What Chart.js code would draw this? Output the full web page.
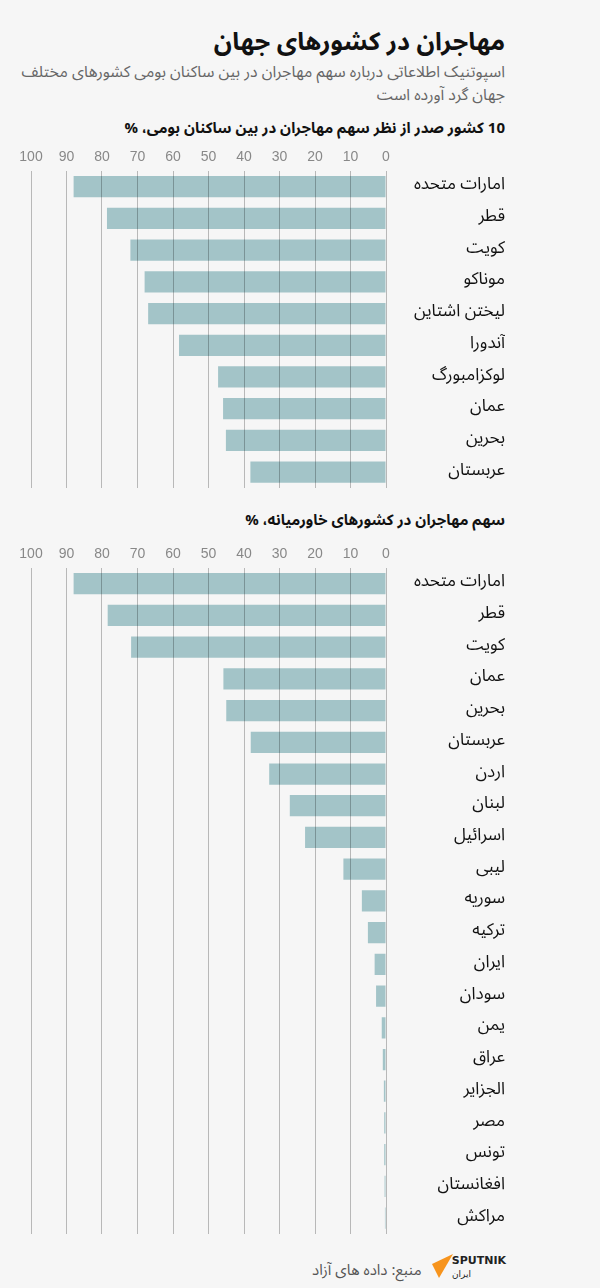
<!DOCTYPE html>
<html lang="fa">
<head>
    <meta charset="UTF-8" />
    <title>مهاجران در کشورهای جهان</title>
    <script src="https://cdn.jsdelivr.net/npm/chart.js"></script>
    <style>
        html, body {
            margin: 0;
            padding: 0;
            background: #f6f6f6;
        }
        body {
            width: 600px;
            height: 1288px;
            position: relative;
            overflow: hidden;
            font-family: "Noto Sans Arabic", "DejaVu Sans", sans-serif;
        }
        .txt {
            position: absolute;
            right: 95px;
            direction: rtl;
            text-align: right;
            white-space: nowrap;
        }
        .title {
            top: 24px;
            font-size: 25px;
            font-weight: bold;
            line-height: 36px;
            color: #111;
        }
        .subtitle {
            top: 61px;
            font-size: 15.8px;
            line-height: 23px;
            color: #666;
        }
        .chart-title {
            font-size: 15px;
            font-weight: bold;
            line-height: 24px;
            color: #111;
        }
        canvas {
            position: absolute;
            left: 0;
        }
        .source {
            position: absolute;
            left: 312px;
            top: 1254px;
            direction: rtl;
            font-size: 15px;
            color: #555;
            white-space: nowrap;
        }
        .logo {
            position: absolute;
            left: 428px;
            top: 1251px;
        }
    </style>
</head>
<body>
    <div class="txt title">مهاجران در کشورهای جهان</div>
    <div class="txt subtitle">اسپوتنیک اطلاعاتی درباره سهم مهاجران در بین ساکنان بومی کشورهای مختلف<br>جهان گرد آورده است</div>

    <div class="txt chart-title" style="top:116px">10 کشور صدر از نظر سهم مهاجران در بین ساکنان بومی، %</div>
    <canvas id="top10" width="505" height="344" style="top:144px"></canvas>

    <div class="txt chart-title" style="top:508px">سهم مهاجران در کشورهای خاورمیانه، %</div>
    <canvas id="mideast" width="505" height="693" style="top:541px"></canvas>

    <svg class="logo" width="80" height="30" viewBox="0 0 80 30">
        <polygon points="4,13 25,3 11,27" fill="#f7941d" />
        <text x="78" y="13" text-anchor="end" font-family="DejaVu Sans, sans-serif" font-weight="bold" font-size="11" fill="#222">SPUTNIK</text>
        <text x="43" y="26" text-anchor="end" font-family="DejaVu Sans, sans-serif" font-size="9" fill="#222">ایران</text>
    </svg>
    <div class="source">منبع: داده های آزاد</div>

    <script>
        // top 10 countries by share of migrants
        const topCountries = ['امارات متحده', 'قطر', 'کویت', 'موناکو', 'لیختن اشتاین', 'آندورا', 'لوکزامبورگ', 'عمان', 'بحرین', 'عربستان'];
        const topShares = [88, 78.6, 72, 68, 67, 58.3, 47.3, 45.9, 45.1, 38.2];

        // middle east
        const meCountries = ['امارات متحده', 'قطر', 'کویت', 'عمان', 'بحرین', 'عربستان', 'اردن', 'لبنان', 'اسرائیل', 'لیبی', 'سوریه', 'ترکیه', 'ایران', 'سودان', 'یمن', 'عراق', 'الجزایر', 'مصر', 'تونس', 'افغانستان', 'مراکش'];
        const meShares = [88, 78.4, 71.8, 45.8, 45, 38.1, 32.9, 27.1, 22.8, 12, 6.8, 5.1, 3.2, 2.8, 1.2, 0.9, 0.6, 0.5, 0.5, 0.4, 0.3];

        const xTicks = [0, 10, 20, 30, 40, 50, 60, 70, 80, 90, 100];

        const labelFont = { family: '"Noto Sans Arabic", "DejaVu Sans", sans-serif', size: 17 };
        const AXIS_W = 119;

        // measure widest label so that text ends at the right edge
        function labelPadding(labels) {
            const c = document.createElement('canvas').getContext('2d');
            c.font = labelFont.size + 'px ' + labelFont.family;
            let w = 0;
            labels.forEach(l => { w = Math.max(w, c.measureText(l).width); });
            return Math.max(0, AXIS_W - w);
        }

        function makeChart(id, labels, values) {
            const ctx = document.getElementById(id).getContext('2d');
            return new Chart(ctx, {
                type: 'bar',
                data: {
                    labels: labels,
                    datasets: [{
                        data: values,
                        backgroundColor: '#a3c4c8',
                        barPercentage: 0.67,
                        categoryPercentage: 1
                    }]
                },
                options: {
                    indexAxis: 'y',
                    responsive: false,
                    animation: false,
                    layout: { padding: { left: 31, right: 0, top: 0, bottom: 0 } },
                    plugins: {
                        legend: { display: false },
                        tooltip: { enabled: false }
                    },
                    scales: {
                        x: {
                            position: 'top',
                            reverse: true,
                            min: 0,
                            max: 100,
                            afterBuildTicks: s => { s.ticks = xTicks.map(v => ({ value: v })); },
                            ticks: {
                                color: '#888',
                                padding: 5,
                                font: { family: '"Liberation Sans Narrow", "Liberation Sans", sans-serif', size: 14 }
                            },
                            // grid goes over the bars, like in the original
                            grid: { color: 'rgba(0,0,0,0.25)', drawTicks: false, z: 1 },
                            border: { display: false }
                        },
                        y: {
                            position: 'right',
                            afterFit: s => {
                                s.width = AXIS_W;
                                // tick padding would otherwise push the plot in vertically
                                s.paddingTop = 0;
                                s.paddingBottom = 0;
                            },
                            ticks: {
                                color: '#111',
                                crossAlign: 'far',
                                padding: labelPadding(labels),
                                font: labelFont
                            },
                            grid: { display: false, drawTicks: false },
                            border: { display: false }
                        }
                    }
                }
            });
        }

        makeChart('top10', topCountries, topShares);
        makeChart('mideast', meCountries, meShares);
    </script>
</body>
</html>
